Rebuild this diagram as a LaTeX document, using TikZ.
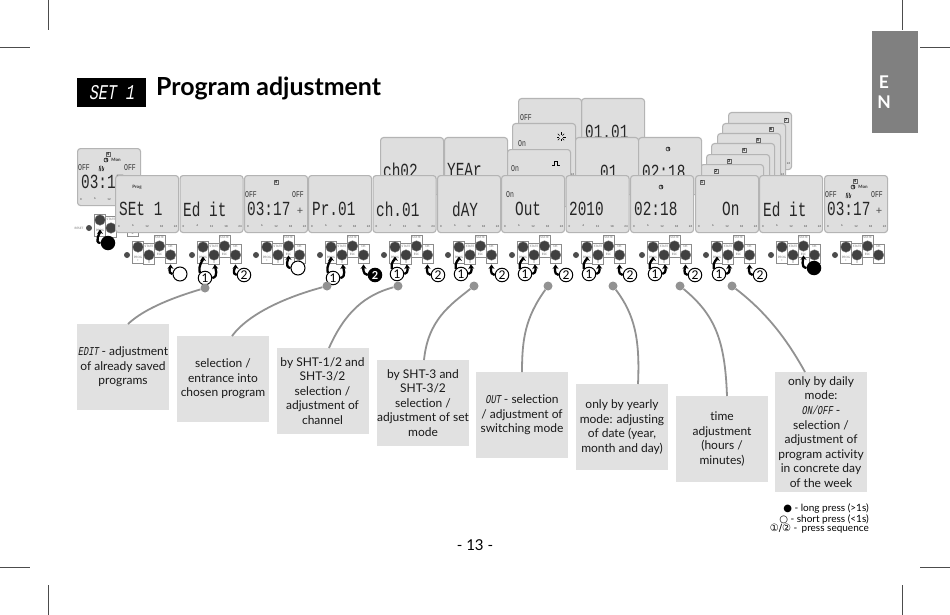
\documentclass[tikz,border=0pt]{standalone}
\usepackage{fontspec}
\setmainfont[Ligatures=NoCommon]{Lato}
\newfontfamily\lcdfont[FakeStretch=.72]{Liberation Mono}
\newfontfamily\lcdslant[FakeStretch=.72,FakeSlant=.18]{Liberation Mono}
\newfontfamily\legsym{DejaVu Sans}
\usetikzlibrary{arrows.meta}
\definecolor{panelfill}{HTML}{DEDEDE}
\definecolor{panelline}{HTML}{B4B4B4}
\definecolor{notefill}{HTML}{E1E1E1}
\definecolor{leadgray}{HTML}{929292}
\newcommand{\tinyfont}{\fontsize{3}{3}\selectfont}
\newcommand{\keybare}[3]{
  \begin{scope}[shift={(#2,#3)}]
    \node[keydot] (#1d) at (0,0) {};
    \node[keybox,minimum height=22] (#1b1) at (11,-3) {};
    \node[keybox,minimum height=21] (#1b2) at (22,-1) {};
    \node[keybox,minimum height=22] (#1b3) at (32.5,-9) {};
    \node[keybox,minimum height=19] (#1b4) at (43.5,-1.5) {};
    \node[keycirc] (#1k1) at (11,-8) {};
    \node[keycirc] (#1k2) at (22,0) {};
    \node[keycirc] (#1k3) at (32.5,-9) {};
    \node[keycirc] (#1k4) at (43.5,0) {};
  \end{scope}
}
\newcommand{\keypad}[3]{
  \keybare{#1}{#2}{#3}
  \begin{scope}[shift={(#2,#3)}]
    \node[keylabel] at (11,2) {PROG};
    \node[keylabel] at (11,5.5) {+};
    \node[keylabel] at (22,-8.5) {STATE};
    \node[keylabel] at (22,7.5) {II};
    \node[keylabel] at (32.5,-17.5) {STATE};
    \node[keylabel] at (32.5,-0.5) {ESC};
    \node[keylabel] at (43.5,-8.5) {OK};
  \end{scope}
}
\newcommand{\twopress}[5]{
  \begin{scope}[shift={(#2,255)}]
    \node[seqmark] (#1m1) at (13,#3) {1};
    \node[seqmark,#4] (#1m2) at (#5,20) {2};
    \draw[pressarrow] (#1m1.north west) to[out=105,in=-90] (#1k1);
    \draw[pressarrow] (#1m1.east) to[out=10,in=-85] (#1k2);
    \draw[pressarrow] (#1m2.west) to[out=175,in=-90] (#1k4);
  \end{scope}
}
\newcommand{\backpanel}[3]{
  \node[lcdpanel,anchor=north west] (#1) at (#2,#3) {};
}
\newcommand{\panel}[3]{
  \backpanel{#1}{#2}{#3}
  \begin{scope}[shift={(#2,#3)}]
    \node[tick] at (4,51) {0};
    \node[tick] at (18,51) {6};
    \node[tick] at (32,51) {12};
    \node[tick] at (46.5,51) {18};
    \node[tick] at (60.5,51) {24};
  \end{scope}
}
\newcommand{\clockmark}[2]{
  \draw[line width=.5] (#1,#2) circle (2) (#1,#2) -- ++(0,-1.6) (#1,#2) -- ++(1.4,0);
}
\newcommand{\weekface}[2]{
  \begin{scope}[shift={(#1,#2)}]
    \node[daybox] at (31,6) {4};
    \clockmark{29}{12}
    \node[monlabel] at (39,12) {Mon};
    \node[lcdsmall] at (7,20) {OFF};
    \node[lcdsmall] at (53,20) {OFF};
    \draw[line width=.5] (22,23) -- (22.5,18) (23.5,23) -- (24,17.5) (25,23) -- (25.5,18) (26,23) -- (27,19.5);
  \end{scope}
}
\begin{document}
\begin{tikzpicture}
    [x=1pt,y=-1pt,
    keydot/.style={circle,fill=black!70,inner sep=0,minimum size=6},
    keybox/.style={draw=black!45,line width=.6,fill=white,inner sep=0,minimum width=11},
    keycirc/.style={circle,fill=black!75,draw=black!55,line width=.4,inner sep=0,minimum size=10.5},
    keylabel/.style={font=\tinyfont,text=black!55,inner sep=0},
    seqmark/.style={circle,draw,line width=1,fill=white,inner sep=0,minimum size=13.5,font=\fontsize{12}{12}\selectfont},
    shortmark/.style={circle,draw,line width=1,fill=white,inner sep=0,minimum size=14},
    longmark/.style={circle,fill=black,inner sep=0,minimum size=14.5},
    blackmark/.style={fill=black,text=white,font=\bfseries\fontsize{11}{11}\selectfont},
    pressarrow/.style={-{Stealth[length=4.5pt,width=6pt]},line width=2.3,shorten >=4pt},
    lcdpanel/.style={draw=panelline,line width=1.1,fill=panelfill,rounded corners=3,minimum width=63,minimum height=57,inner sep=0},
    tick/.style={font=\fontsize{2.8}{3}\selectfont,text=black!75,inner sep=0},
    lcdtext/.style={font=\lcdfont\fontsize{20}{20}\selectfont,inner sep=0,anchor=west,text=black!85},
    lcdsmall/.style={font=\lcdfont\fontsize{9}{9}\selectfont,inner sep=0,text=black!80},
    daybox/.style={draw=black!60,line width=.4,fill=black!12,inner sep=.6,font=\bfseries\fontsize{4}{4}\selectfont},
    monlabel/.style={font=\bfseries\fontsize{4.5}{4.5}\selectfont,inner sep=0,text=black!80},
    note/.style={fill=notefill,inner sep=0,align=center,minimum width=92,minimum height=86,
      font=\fontsize{12}{14.6}\selectfont,text=black!90},
    legend/.style={anchor=east,inner sep=0,font=\fontsize{10}{10}\selectfont},
    lead/.style={draw=leadgray,line width=1.8},
    leaddot/.style={circle,fill=leadgray,inner sep=0,minimum size=9},
    crop/.style={line width=.6,black!70}]
    \useasboundingbox (0,0) rectangle (950,615);
    \fill[white] (0,0) rectangle (950,615);

    \draw[crop] (0,47) -- (30,47);
    \draw[crop] (48,0) -- (48,30);
    \draw[crop] (902,0) -- (902,30);
    \draw[crop] (920,47) -- (950,47);
    \draw[crop] (0,567) -- (30,567);
    \draw[crop] (48,585) -- (48,615);
    \draw[crop] (902,585) -- (902,615);
    \draw[crop] (920,567) -- (950,567);

    \node[fill=black!50,minimum width=46,minimum height=102,inner sep=0] (tab) at (895,82) {};
    \node[align=center,inner sep=0,text=white,font=\bfseries\fontsize{17.5}{20}\selectfont] (tabtext) at (884,92) {E\\N};
    \node[fill=black,minimum width=69,minimum height=29,inner sep=0,text=white,
      font=\lcdslant\fontsize{21}{21}\selectfont] (setbox) at (111.5,92.5) {SET 1};
    \node[anchor=base west,inner sep=0,font=\bfseries\fontsize{24.9}{26}\selectfont] (title) at (156,95.5) {Program adjustment};

    \keybare{g}{89}{228}
    \node[keylabel] at (100,230) {PROG};
    \node[keylabel] at (111,219.5) {STATE};
    \keypad{h}{127}{255}
    \keypad{i}{192}{255}
    \keypad{j}{256}{255}
    \keypad{k}{320}{255}
    \keypad{l}{384}{255}
    \keypad{m}{448}{255}
    \keypad{n}{512}{255}
    \keypad{o}{576}{255}
    \keypad{q}{642}{255}
    \keypad{r}{706}{255}
    \keypad{s}{771}{255}
    \keypad{u}{835}{255}
    \node[keylabel] (reset) at (79,228) {RESET};

    \node[longmark] (gm) at (108,243) {};
    \draw[pressarrow] (gm.west) to[out=180,in=-90] (gk1);
    \node[shortmark] (hm) at (180,274) {};
    \draw[pressarrow] (hm.west) to[out=175,in=-90] (hk4);
    \twopress{i}{192}{23}{}{52}
    \node[shortmark] (jm) at (298,268) {};
    \draw[pressarrow] (jm.west) to[out=175,in=-90] (jk3);
    \twopress{k}{320}{23}{blackmark}{55}
    \twopress{l}{384}{19}{}{54}
    \twopress{m}{448}{19}{}{54}
    \twopress{n}{512}{19}{}{54}
    \twopress{o}{576}{19}{}{54}
    \twopress{q}{642}{19}{}{53}
    \twopress{r}{706}{19}{}{54}
    \node[longmark] (sm) at (814,268) {};
    \draw[pressarrow] (sm.west) to[out=175,in=-90] (sk3);

    \backpanel{p0}{77}{148}
    \weekface{77}{148}
    \node[tick] at (81,199) {0};
    \node[tick] at (95,199) {6};
    \node[tick] at (109,199) {12};
    \node[lcdtext] at (81,182) {03:17};

    \panel{y7}{728}{112}
    \panel{y6}{722}{123}
    \backpanel{y5}{717}{133}
    \backpanel{y4}{711}{143}
    \backpanel{y3}{706}{154}
    \backpanel{y2}{700}{164}
    \node[daybox] at (786,120) {7};
    \node[daybox] at (771,129) {6};
    \node[daybox] at (758,140) {5};
    \node[daybox] at (744,150) {4};
    \node[daybox] at (729,161) {3};
    \node[daybox] at (716,171) {2};

    \backpanel{c2}{380}{137}
    \node[lcdtext] at (383,170) {ch02};
    \backpanel{a2}{444}{137}
    \node[lcdtext] at (447,170) {YEAr};
    \backpanel{w1}{581}{98}
    \node[lcdtext] at (585,132) {01.01};
    \backpanel{w2}{518}{98}
    \node[lcdsmall] at (526,118) {OFF};
    \panel{w3}{512}{123}
    \node[lcdsmall] at (522,144) {On};
    \foreach \a in {0,45,...,315}
      \draw[line width=.5] (561,137) ++(\a:2) -- ++(\a:2.5);
    \backpanel{w4}{507}{149}
    \node[lcdsmall] at (515,169) {On};
    \draw[line width=.6] (552,165) -- (554.5,165) -- (554.5,161) -- (557.5,161) -- (557.5,165) -- (560,165);
    \backpanel{w5}{575}{137}
    \node[lcdtext] at (600,172) {01};
    \backpanel{w6}{638}{137}
    \node[lcdtext] at (642,172) {02:18};
    \clockmark{668}{149}

    \panel{p1}{115}{175}
    \node[monlabel] at (137,187) {Prog};
    \node[lcdtext] at (119,209) {SEt 1};
    \panel{p2}{179.5}{175}
    \node[lcdtext] at (183,209) {Ed it};
    \panel{p3}{244}{175}
    \node[daybox] at (276,182) {4};
    \node[lcdsmall] at (251,195) {OFF};
    \node[lcdsmall] at (298,195) {OFF};
    \node[font=\fontsize{11}{11}\selectfont,inner sep=0,text=black!70] at (300,211) {+};
    \node[lcdtext] at (247,209) {03:17};
    \panel{p4}{308}{175}
    \node[lcdtext] at (312,209) {Pr.01};
    \panel{p5}{372.5}{175}
    \node[lcdtext] at (376,209) {ch.01};
    \panel{p6}{437}{175}
    \node[lcdtext] at (452,209) {dAY};
    \panel{p7}{501}{175}
    \node[lcdsmall] at (510,195) {On};
    \node[lcdtext] at (515,209) {Out};
    \panel{p8}{565.5}{175}
    \node[lcdtext] at (569,209) {2010};
    \panel{p9}{630}{175}
    \clockmark{661}{187}
    \node[lcdtext] at (634,209) {02:18};
    \panel{p10}{695}{175}
    \node[daybox] at (702,182) {1};
    \node[lcdtext] at (722,209) {On};
    \panel{p11}{759}{175}
    \node[lcdtext] at (763,209) {Ed it};
    \panel{p12}{824}{175}
    \weekface{824}{175}
    \node[font=\fontsize{11}{11}\selectfont,inner sep=0,text=black!70] at (879,211) {+};
    \node[lcdtext] at (827,209) {03:17};

    \node[note] (b1) at (123,367) {{\lcdslant EDIT} - adjustment\\of already saved\\programs};
    \node[note] (b2) at (223,379) {selection /\\entrance into\\chosen program};
    \node[note] (b3) at (322.5,391) {by SHT-1/2 and\\SHT-3/2\\selection /\\adjustment of\\channel};
    \node[note] (b4) at (423,403) {by SHT-3 and\\SHT-3/2\\selection /\\adjustment of set\\mode};
    \node[note] (b5) at (522,415) {{\lcdslant OUT} - selection\\/ adjustment of\\switching mode};
    \node[note] (b6) at (622,427) {only by yearly\\mode: adjusting\\of date (year,\\month and day)};
    \node[note] (b7) at (722,439) {time\\adjustment\\(hours /\\minutes)};
    \node[note,minimum height=120] (b8) at (821,432) {only by daily\\mode:\\{\lcdslant ON/OFF} -\\selection /\\adjustment of\\program activity\\in concrete day\\of the week};

    \node[leaddot] (d1) at (205,288) {};
    \node[leaddot] (d2) at (327,286) {};
    \node[leaddot] (d3) at (398,286) {};
    \node[leaddot] (d4) at (474,286) {};
    \node[leaddot] (d5) at (548,286) {};
    \node[leaddot] (d6) at (613,286) {};
    \node[leaddot] (d7) at (680,286) {};
    \node[leaddot] (d8) at (732,286) {};
    \coordinate (e1) at (128,324);
    \coordinate (e2) at (232,336);
    \coordinate (e3) at (329,348);
    \coordinate (e4) at (424,360);
    \coordinate (e5) at (522,372);
    \coordinate (e6) at (638,384);
    \coordinate (e7) at (727,396);
    \coordinate (e8) at (805,372);
    \draw[lead] (d1) .. controls (175,297) and (145,308) .. (e1);
    \draw[lead] (d2) .. controls (290,296) and (250,312) .. (e2);
    \draw[lead] (d3) .. controls (365,295) and (345,312) .. (e3);
    \draw[lead] (d4) .. controls (450,305) and (428,320) .. (e4);
    \draw[lead] (d5) .. controls (525,318) and (522,340) .. (e5);
    \draw[lead] (d6) .. controls (635,315) and (640,340) .. (e6);
    \draw[lead] (d7) .. controls (715,315) and (725,340) .. (e7);
    \draw[lead] (d8) .. controls (770,315) and (790,345) .. (e8);

    \node[legend] (leg1) at (869,508.5) {{\legsym ●} - long press (>1s)};
    \node[legend] (leg2) at (869,519) {{\legsym ○} - short press (<1s)};
    \node[legend] (leg3) at (869,529) {{\legsym ①/②} -\, press sequence};

    \node[font=\fontsize{15}{15}\selectfont,inner sep=0] (page) at (475,545) {- 13 -};
  \end{tikzpicture}
\end{document}
